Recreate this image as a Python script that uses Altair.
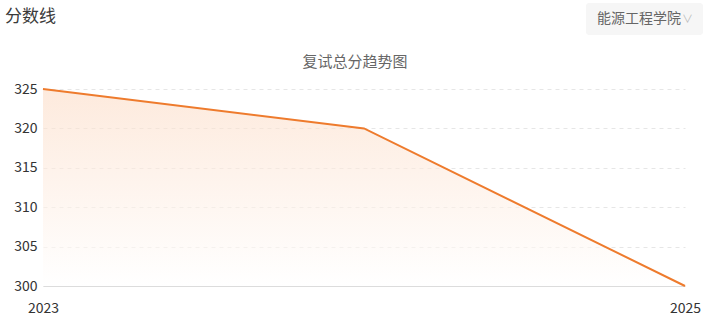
import altair as alt
import pandas as pd

years = [2023, 2024, 2025]
scores = [325, 320, 300]
y_ticks = [300, 305, 310, 315, 320, 325]

df = pd.DataFrame({"year": years, "score": scores})
FONT = "Noto Sans CJK SC"

x = alt.X("year:Q", scale=alt.Scale(domain=[2023, 2025], nice=False, zero=False),
          axis=alt.Axis(values=years, format="d", title=None, grid=False, ticks=False,
                        domain=True, domainColor="#dcdcdc", labelPadding=15,
                        labelFontSize=14, labelColor="#333333", labelFont=FONT,
                        labelFlush=False))
y = alt.Y("score:Q", scale=alt.Scale(domain=[300, 325], nice=False, zero=False),
          axis=alt.Axis(values=y_ticks, title=None, grid=True, gridColor="#e6e6e6",
                        gridDash=[4, 4], ticks=False, domain=False, labelPadding=6,
                        labelFontSize=14, labelColor="#333333", labelFont=FONT))

area = alt.Chart(df).mark_area(
    color=alt.Gradient(gradient="linear",
                       stops=[alt.GradientStop(color="#fcdcc6", offset=0),
                              alt.GradientStop(color="#ffffff", offset=1)],
                       x1=1, x2=1, y1=0, y2=1),
    opacity=0.6,
).encode(x=x, y=y, y2=alt.Y2(datum=300))

line = alt.Chart(df).mark_line(color="#ee7b2d", strokeWidth=2).encode(x=x, y=y)

title_df = pd.DataFrame({"t": ["复试总分趋势图"]})
chart_title = alt.Chart(title_df).mark_text(
    font=FONT, fontSize=15, color="#666666", align="center", baseline="middle"
).encode(x=alt.value(312), y=alt.value(-27), text="t:N")

head = alt.Chart(pd.DataFrame({"t": ["分数线"]})).mark_text(
    font=FONT, fontSize=17, color="#3a3a3a", fontWeight="normal", align="left", baseline="middle"
).encode(x=alt.value(-38), y=alt.value(-72), text="t:N")

box = alt.Chart(pd.DataFrame({"a": [1]})).mark_rect(
    color="#f6f6f6", cornerRadius=3
).encode(x=alt.value(543), x2=alt.value(660), y=alt.value(-86), y2=alt.value(-54))

drop = alt.Chart(pd.DataFrame({"t": ["能源工程学院"]})).mark_text(
    font=FONT, fontSize=14, color="#666666", align="left", baseline="middle"
).encode(x=alt.value(554), y=alt.value(-70), text="t:N")

chev = alt.Chart(pd.DataFrame({"t": ["∨"]})).mark_text(
    font=FONT, fontSize=11, color="#bbbbbb", align="left", baseline="middle"
).encode(x=alt.value(639), y=alt.value(-69), text="t:N")

chart = alt.layer(area, line, chart_title, box, drop, head, chev).properties(
    width=642, height=197,
    background="#ffffff",
    autosize=alt.AutoSizeParams(type="none"),
    padding={"left": 43, "top": 89, "right": 23, "bottom": 32},
).configure_view(strokeWidth=0, stroke="transparent")

chart.save("out.html", embed_options={"renderer": "svg", "actions": False})
